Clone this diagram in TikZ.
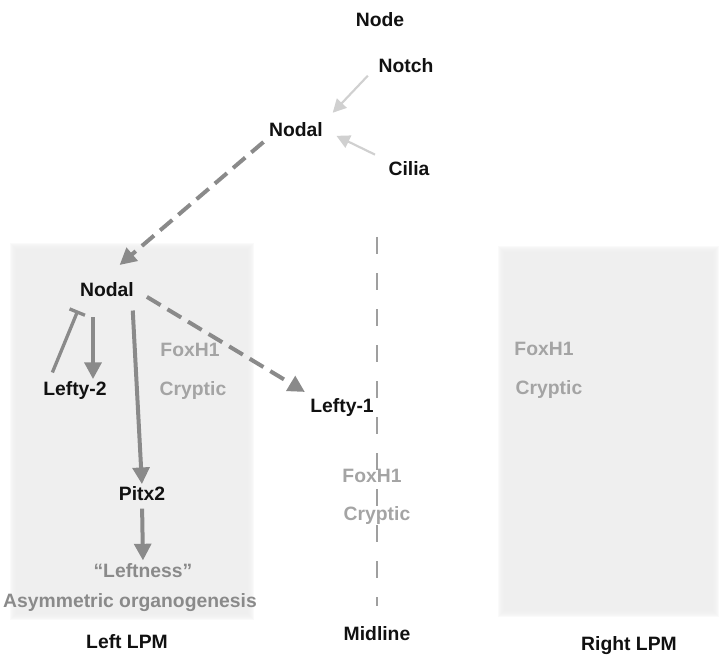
\documentclass[tikz,border=0pt]{standalone}
\usepackage{fontspec}
\setmainfont{Liberation Sans}
\usetikzlibrary{arrows.meta,positioning}
\definecolor{ink}{HTML}{111111}
\definecolor{signal}{HTML}{8A8A8A}
\definecolor{faint}{HTML}{D0D0D0}
\definecolor{factor}{HTML}{A4A4A4}
\definecolor{lpm}{HTML}{EEEEEE}
\tikzset{
  gene/.style={
    text=ink,
    inner sep=1pt,
    text height=10.4pt,
    text depth=0pt,
    font=\bfseries\fontsize{14.5}{17}\selectfont
  },
  cofactor/.style={
    gene,
    text=factor
  },
  outcome/.style={
    gene,
    text=signal
  },
  flow/.style={
    -{Triangle[length=12.5pt,width=12.5pt]},
    draw=signal,
    line width=3pt
  },
  spread/.style={
    flow,
    dash pattern=on 12pt off 6pt
  },
  cue/.style={
    -{Triangle[length=10pt,width=10pt]},
    draw=faint,
    line width=1.6pt
  },
  block/.style={
    -{Bar[width=12.5pt,line width=2.5pt]},
    draw=signal,
    line width=2.5pt
  },
  midline/.style={
    draw=gray!75,
    line width=0.8pt,
    dash pattern=on 13pt off 14pt
  }
}

\begin{document}
\begin{tikzpicture}[x=0.75pt,y=-0.75pt]
  \useasboundingbox (0,0) rectangle (725,656);

  % left and right lateral plate mesoderm, soft edged
  \foreach \d in {0,...,6} {
    \fill[lpm, opacity=0.3] (16-\d,249-\d) rectangle (248+\d,614+\d);
    \fill[lpm, opacity=0.3] (504-\d,252-\d) rectangle (713+\d,611+\d);
  }
  \draw[midline] (377,237) -- (377,606);

  % the node
  \node[gene] (nodeTitle) at (380,20) {Node};
  \node[gene] (notch) at (406,66) {Notch};
  \node[gene] (nodalTop) at (296,130) {Nodal};
  \node[gene] (cilia) at (409,169) {Cilia};

  % left LPM
  \node[gene] (nodalL) at (107,290) {Nodal};
  \node[gene] (leftyB) at (75,389) {Lefty-2};
  \node[cofactor] (foxL) at (190,350) {FoxH1};
  \node[cofactor] (crypL) at (193,389) {Cryptic};
  \node[gene] (pitx) at (142,494) {Pitx2};
  \node[outcome] (leftness) at (143,571) {“Leftness”};
  \node[outcome] (organo) at (130,601) {Asymmetric organogenesis};

  % midline
  \node[gene] (leftyA) at (342,406) {Lefty-1};
  \node[cofactor] (foxM) at (372,476) {FoxH1};
  \node[cofactor] (crypM) at (377,514) {Cryptic};

  % right LPM
  \node[cofactor] (foxR) at (544,349) {FoxH1};
  \node[cofactor] (crypR) at (549,388) {Cryptic};

  % region labels
  \node[gene] (leftLPM) at (127,642) {Left LPM};
  \node[gene] (midLabel) at (377,634) {Midline};
  \node[gene] (rightLPM) at (629,644) {Right LPM};

  \draw[cue, shorten <=10pt, shorten >=9pt] (notch.west) -- (nodalTop.north east);
  \draw[cue, shorten <=10pt, shorten >=10pt] (cilia.north west) -- (nodalTop.east);
  \draw[spread, shorten <=4pt, shorten >=19pt] (nodalTop.south west) -- ([xshift=-5pt]nodalL.north);

  \draw[flow, shorten <=14pt, shorten >=1pt] ([xshift=-10.5pt]nodalL.south) -- ([xshift=-10.5pt]nodalL.south |- leftyB.north);
  \draw[block] ([xshift=8pt,yshift=6pt]leftyB.north west) -- ([xshift=-0.5pt,yshift=-9pt]nodalL.south west);
  \draw[flow, shorten <=9pt, shorten >=1pt] ([xshift=-2.5pt]nodalL.south east) -- (pitx.north);
  \draw[flow, shorten <=4.5pt, shorten >=1.5pt] (pitx.south) -- (leftness.north);
  \draw[spread, shorten <=10pt, shorten >=8pt] (nodalL.east) -- ([xshift=4pt]leftyA.north west);
\end{tikzpicture}
\end{document}
